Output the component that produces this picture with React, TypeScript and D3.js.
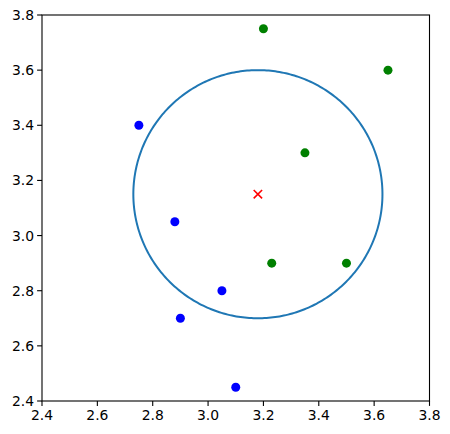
import React from "react";
import * as d3 from "d3";

const xTicks = [2.4, 2.6, 2.8, 3.0, 3.2, 3.4, 3.6, 3.8];
const yTicks = [2.4, 2.6, 2.8, 3.0, 3.2, 3.4, 3.6, 3.8];
const blueX = [2.75, 2.88, 3.05, 2.9, 3.1];
const blueY = [3.4, 3.05, 2.8, 2.7, 2.45];
const greenX = [3.2, 3.65, 3.35, 3.23, 3.5];
const greenY = [3.75, 3.6, 3.3, 2.9, 2.9];
const center = [3.18, 3.15];
const radius = 0.45;

export default function App() {
  const W = 450, H = 434;
  const L = 42, R = 429.5, T = 15, B = 401;
  const x = d3.scaleLinear().domain([2.4, 3.8]).range([L, R]);
  const y = d3.scaleLinear().domain([2.4, 3.8]).range([B, T]);
  const angles = d3.range(0, 361, 1);
  const circlePath = d3.line<number>()
    .x((a) => x(center[0] + radius * Math.cos((a * Math.PI) / 180)))
    .y((a) => y(center[1] + radius * Math.sin((a * Math.PI) / 180)))(angles) as string;
  const font = "DejaVu Sans, sans-serif";
  const cx = x(center[0]), cy = y(center[1]);
  const s = 4.2;
  return (
    <svg width={W} height={H} style={{ position: "absolute", left: 0, top: 0 }}>
      <rect width={W} height={H} fill="#fff" />
      <path d={circlePath} fill="none" stroke="#1f77b4" strokeWidth={2} />
      {blueX.map((v, i) => (
        <circle key={"b" + i} cx={x(v)} cy={y(blueY[i])} r={4.5} fill="blue" />
      ))}
      {greenX.map((v, i) => (
        <circle key={"g" + i} cx={x(v)} cy={y(greenY[i])} r={4.5} fill="green" />
      ))}
      <path d={`M${cx - s},${cy - s}L${cx + s},${cy + s}M${cx - s},${cy + s}L${cx + s},${cy - s}`} stroke="red" strokeWidth={1.6} />
      <rect x={L} y={T} width={R - L} height={B - T} fill="none" stroke="#000" strokeWidth={1.1} />
      {xTicks.map((t) => (
        <g key={"x" + t}>
          <line x1={x(t)} x2={x(t)} y1={B} y2={B + 4.9} stroke="#000" strokeWidth={1.1} />
          <text x={x(t)} y={B + 19} textAnchor="middle" fontFamily={font} fontSize={13.9} fill="#000">{t.toFixed(1)}</text>
        </g>
      ))}
      {yTicks.map((t) => (
        <g key={"y" + t}>
          <line x1={L - 4.9} x2={L} y1={y(t)} y2={y(t)} stroke="#000" strokeWidth={1.1} />
          <text x={L - 8} y={y(t) + 5} textAnchor="end" fontFamily={font} fontSize={13.9} fill="#000">{t.toFixed(1)}</text>
        </g>
      ))}
    </svg>
  );
}
